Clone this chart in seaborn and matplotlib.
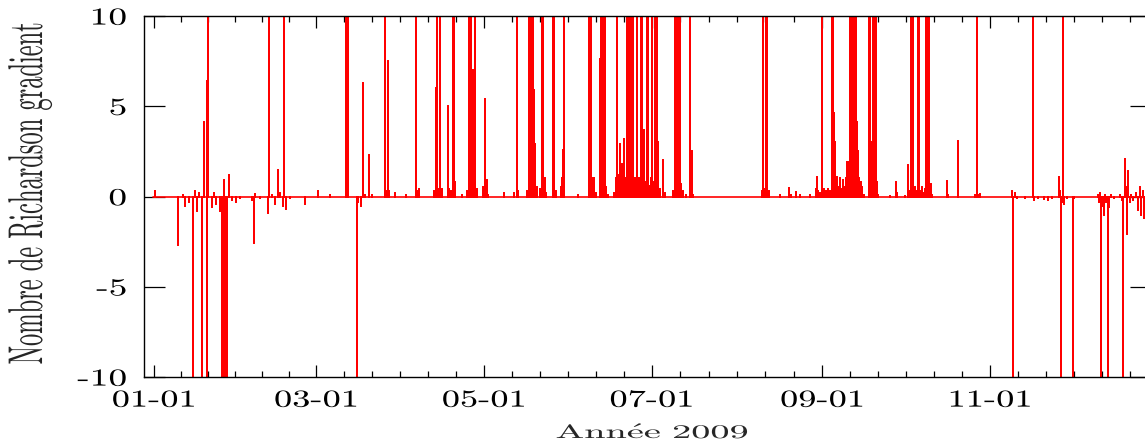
import matplotlib
matplotlib.use("Agg")
import matplotlib.pyplot as plt
import matplotlib.dates as mdates
from matplotlib.ticker import FixedLocator, NullLocator
from matplotlib.patheffects import AbstractPathEffect
from matplotlib.transforms import Affine2D
import pandas as pd
import seaborn as sns

# ---------------------------------------------------------------------------
# Data: gradient Richardson number, 2009.  The record sits near 0 and is
# interrupted by short excursions; each excursion is listed as
# (day since 1 January 2009, Ri).  Off-scale excursions are stored at +/-10.
# ---------------------------------------------------------------------------
year_start = "2009-01-01"
baseline_ri = 0.0
record_first_day, record_last_day = -0.5, 362.0

day_jan_mar = [0.4, 8.7, 10.5, 11.3, 12.7, 14.2, 14.9, 15.6, 16.4, 17.5,
               18.3, 19.1, 19.2, 19.7, 21.1, 21.8, 22.5, 24.0, 24.7, 25.1,
               25.5, 25.8, 26.2, 26.5, 27.4, 28.4, 29.8, 31.3, 35.6, 36.4,
               36.7, 38.5, 41.6, 41.9, 42.9, 44.0, 45.2, 45.8, 46.9, 47.4,
               48.0, 49.5, 54.9, 59.6, 64.0, 69.8, 70.4, 70.7, 73.8, 74.2,
               75.3, 75.9, 76.7, 78.2, 79.3, 84.0, 84.5, 85.0, 85.5, 87.6]
ri_jan_mar = [0.3, -2.7, 0.1, -0.5, -0.3, -10, 0.3, -0.8, 0.2, -10,
              4.1, -10, 6.4, 10, -0.6, 0.2, -0.4, -0.8, -10, -10,
              0.9, -10, -10, -10, 1.2, -0.2, -0.3, -0.1, -0.2, -2.6,
              0.15, -0.1, -0.9, 10, 0.1, -0.4, 1.45, 0.2, -0.5, 10,
              -0.7, -0.1, -0.4, 0.3, 0.1, 10, 10, 0.3, -10, -0.3,
              -0.5, 6.3, 0.1, 2.3, 0.1, 10, 0.3, 7.5, 0.3, 0.2]

day_apr_jun = [91.6, 95.1, 95.5, 96.4, 101.8, 102.4, 102.8, 103.3, 104.0, 104.7,
               106.8, 107.3, 108.0, 108.6, 109.1, 109.6, 112.0, 113.8, 114.5, 115.3,
               116.1, 116.7, 117.3, 119.6, 120.4, 120.9, 121.5, 127.3, 130.9, 131.9,
               132.4, 135.6, 136.2, 136.5, 136.9, 137.3, 137.8, 138.2, 138.5, 139.1,
               140.4, 141.0, 141.6, 142.0, 142.5, 144.9, 145.5, 146.0, 148.0, 148.5,
               148.7, 149.0, 154.2, 158.3, 158.5, 158.9, 159.3, 160.1, 160.7, 162.0,
               162.3, 162.5, 162.9, 163.4, 163.8, 164.4, 165.1, 167.3, 167.8, 168.3,
               168.7, 169.1, 169.5, 170.1, 170.5, 171.0, 171.5, 171.9, 172.4, 172.9,
               173.5, 173.9, 174.3, 174.9, 175.5, 176.0, 176.5, 177.0, 177.6, 178.3,
               178.7, 179.2, 179.7, 180.2, 180.7, 181.2, 181.8, 182.2, 182.5, 183.0,
               183.4, 184.0, 185.2, 185.8, 188.7, 189.3, 189.6, 190.0, 190.4, 190.7,
               191.1, 191.6, 192.2, 193.5, 194.9, 195.5, 196.0]
ri_apr_jun = [0.1, 10, 0.3, 0.4, 0.3, 6.0, 10, 0.4, 10, 0.4,
              5.0, 0.4, 0.3, 10, 10, 0.8, 0.1, 0.3, 10, 10,
              7.0, 10, 0.4, 0.5, 5.4, 0.9, 0.1, 0.2, 0.2, 10,
              0.3, 0.3, 10, 10, 10, 10, 10, 5.9, 2.9, 0.5,
              0.4, 10, 10, 1.0, 0.2, 10, 10, 0.3, 0.5, 1.0,
              2.6, 10, 0.1, 10, 0.3, 10, 1.0, 1.0, 0.2, 0.4,
              7.6, 10, 10, 10, 10, 0.5, 0.1, 0.2, 1.0, 10,
              1.2, 0.5, 2.9, 1.8, 1.0, 3.2, 1.0, 10, 10, 10,
              0.8, 10, 10, 1.0, 10, 0.5, 1.0, 10, 10, 3.7,
              0.8, 10, 10, 0.6, 1.0, 10, 0.8, 10, 10, 10,
              3.0, 0.4, 2.0, 0.2, 0.3, 1.0, 10, 10, 10, 10,
              10, 0.7, 0.3, 0.1, 10, 2.5, 0.1]

day_jul_oct = [221.1, 221.6, 222.0, 222.4, 223.0, 223.5, 227.6, 231.0, 231.6, 233.5,
               234.9, 238.5, 240.6, 241.0, 241.5, 242.2, 243.0, 243.5, 244.4, 245.1,
               245.8, 246.4, 246.8, 247.1, 247.6, 248.1, 248.5, 249.1, 249.5, 250.0,
               250.4, 250.9, 251.5, 252.1, 252.4, 252.7, 253.1, 253.5, 253.8, 254.4,
               254.7, 255.1, 255.5, 255.8, 256.1, 256.5, 256.9, 257.3, 257.6, 258.2,
               260.1, 260.5, 260.9, 261.3, 261.8, 262.4, 262.7, 263.3, 267.6, 269.8,
               270.2, 273.1, 274.3, 274.7, 275.3, 275.9, 276.4, 276.7, 277.2, 277.7,
               278.1, 278.5, 279.2, 279.6, 280.4, 280.7, 281.1, 281.5, 281.9, 282.4,
               282.9, 288.3, 288.7, 292.3, 292.5, 298.5, 299.2, 299.6, 300.4]
ri_jul_oct = [0.3, 10, 0.4, 10, 10, 0.3, 0.1, 0.45, 0.1, 0.25,
              0.1, 0.1, 0.4, 1.1, 0.3, 0.2, 10, 0.4, 0.3, 0.4,
              0.3, 10, 10, 4.6, 3.0, 0.6, 1.1, 0.5, 1.0, 0.4,
              0.9, 0.5, 1.0, 1.9, 0.8, 1.9, 10, 1.5, 10, 10,
              10, 10, 4.1, 2.5, 2.0, 1.0, 0.8, 0.5, 0.2, 0.1,
              10, 10, 3.0, 10, 10, 10, 0.8, 0.1, 0.05, 0.8,
              0.2, 0.05, 1.75, 0.3, 10, 10, 0.3, 0.5, 0.3, 10,
              10, 0.3, 0.5, 0.2, 0.4, 10, 10, 10, 10, 0.7,
              0.1, 0.85, 0.1, 3.1, 0.1, 0.1, 10, 0.1, 0.15]

day_nov_dec = [305.8, 312.0, 312.5, 312.9, 313.8, 316.7, 319.5, 319.8, 321.5, 323.6,
               325.1, 326.5, 329.2, 329.5, 329.8, 330.2, 330.5, 330.9, 332.0, 334.1,
               334.5, 337.5, 343.3, 343.6, 344.0, 344.4, 344.7, 345.3, 345.8, 346.2,
               346.8, 347.3, 347.8, 349.1, 351.3, 352.0, 352.5, 352.9, 353.3, 353.7,
               354.0, 354.3, 354.7, 355.3, 356.0, 357.1, 357.8, 358.4, 358.9, 359.5,
               359.8]
ri_nov_dec = [-0.05, 0.3, -10, 0.2, -0.1, -0.1, 10, -0.2, -0.1, -0.15,
              -0.2, -0.1, 1.1, 0.3, -10, -0.3, 10, -0.4, -0.1, -10,
              -0.1, -0.05, 0.1, -0.3, 0.2, -10, -0.5, -1.0, 0.1, -0.3,
              -10, -0.6, 0.1, -0.1, 0.1, -0.2, -10, 2.1, 0.5, -2.1,
              0.5, 1.4, -0.3, 0.1, -0.2, 0.2, -0.75, 0.5, -1.0, 0.3,
              -1.2]

# Axis ticks and labels
x_major_dates = ["2009-01-01", "2009-03-01", "2009-05-01",
                 "2009-07-01", "2009-09-01", "2009-11-01"]
x_major_labels = ["01-01", "03-01", "05-01", "07-01", "09-01", "11-01"]
x_next_major = "2010-01-01"
x_minor_divisions = 6
x_view_days = (-3.64, 362.5)
y_ticks = [-10, -5, 0, 5, 10]
y_labels = ["-10", "-5", "0", "5", "10"]
x_title = r"$\mathrm{Ann\acute{e}e\ 2009}$"
y_title = "Nombre de Richardson gradient"


class HorizontalStretch(AbstractPathEffect):
    """Widen glyphs horizontally (display x) about a fixed point of the text."""

    def __init__(self, factor, anchor="center"):
        super().__init__()
        self.factor = factor
        self.anchor = anchor

    def draw_path(self, renderer, gc, tpath, affine, rgbFace=None):
        box = tpath.get_extents(affine)
        if self.anchor == "right":
            x0 = box.x1
        elif self.anchor == "left":
            x0 = box.x0
        else:
            x0 = 0.5 * (box.x0 + box.x1)
        stretch = (Affine2D().translate(-x0, 0)
                   .scale(self.factor, 1.0).translate(x0, 0))
        renderer.draw_path(gc, tpath, affine + stretch, rgbFace)


# Build the plotted record: each excursion rises from and returns to the baseline
spike_day = day_jan_mar + day_apr_jun + day_jul_oct + day_nov_dec
spike_ri = ri_jan_mar + ri_apr_jun + ri_jul_oct + ri_nov_dec
assert len(spike_day) == len(spike_ri)

t0 = pd.Timestamp(year_start)
days = [record_first_day]
values = [baseline_ri]
for d, v in zip(spike_day, spike_ri):
    days += [d, d, d]
    values += [baseline_ri, v, baseline_ri]
days.append(record_last_day)
values.append(baseline_ri)
record = pd.DataFrame({
    "date": t0 + pd.to_timedelta(days, unit="D"),
    "ri": values,
})

# Style
sns.set_style("ticks")
plt.rcParams["font.family"] = ["cmr10"]
plt.rcParams["mathtext.fontset"] = "cm"
plt.rcParams["axes.formatter.use_mathtext"] = True
plt.rcParams["axes.unicode_minus"] = False

W, H = 1145, 447
fig = plt.figure(figsize=(W / 100, H / 100), dpi=100)
ax_left, ax_right, ax_top, ax_bottom = 144, 1151, 16, 377
ax = fig.add_axes([ax_left / W, (H - ax_bottom) / H,
                   (ax_right - ax_left) / W, (ax_bottom - ax_top) / H])

sns.lineplot(data=record, x="date", y="ri", estimator=None, sort=False,
             color="#ff0000", linewidth=1.2, ax=ax, legend=False)

# Axes limits
ax.set_xlim(t0 + pd.Timedelta(days=x_view_days[0]),
            t0 + pd.Timedelta(days=x_view_days[1]))
ax.set_ylim(y_ticks[0], y_ticks[-1])

# X ticks: majors every two months, each interval split in six for minors
major_num = mdates.date2num(pd.to_datetime(x_major_dates))
bounds = list(major_num) + [mdates.date2num(pd.Timestamp(x_next_major))]
minor_num = [a + (b - a) * k / x_minor_divisions
             for a, b in zip(bounds[:-1], bounds[1:])
             for k in range(1, x_minor_divisions)]
ax.set_xticks(major_num, x_major_labels)
ax.xaxis.set_minor_locator(FixedLocator(minor_num))
ax.set_yticks(y_ticks, y_labels)
ax.yaxis.set_minor_locator(NullLocator())

ax.tick_params(axis="both", which="both", direction="in", top=True,
               right=True, color="black", width=0.9, labelcolor="black")
ax.tick_params(axis="x", which="major", length=8.5, pad=9, labelsize=17.5)
ax.tick_params(axis="x", which="minor", length=4.3)
ax.tick_params(axis="y", which="major", length=15, pad=12.5, labelsize=17.5)

for spine in ax.spines.values():
    spine.set_color("black")
    spine.set_linewidth(1.0)

ax.set_xlabel(x_title, fontsize=13.8)
ax.set_ylabel(y_title, fontsize=17.6)
ax.xaxis.label.set_va("center")
ax.yaxis.label.set_va("center")
ax_w, ax_h = ax_right - ax_left, ax_bottom - ax_top
ax.xaxis.set_label_coords((652.5 - ax_left) / ax_w, (ax_bottom - 432.5) / ax_h)
ax.yaxis.set_label_coords((30 - ax_left) / ax_w, (ax_bottom - 193.5) / ax_h)

for lab in ax.get_xticklabels():
    lab.set_path_effects([HorizontalStretch(1.5, "center")])
for lab in ax.get_yticklabels():
    lab.set_path_effects([HorizontalStretch(1.54, "right")])
ax.xaxis.label.set_path_effects([HorizontalStretch(2.0, "center")])
ax.yaxis.label.set_path_effects([HorizontalStretch(2.0, "center")])

ax.grid(False)
fig.savefig("out.png", dpi=100)
